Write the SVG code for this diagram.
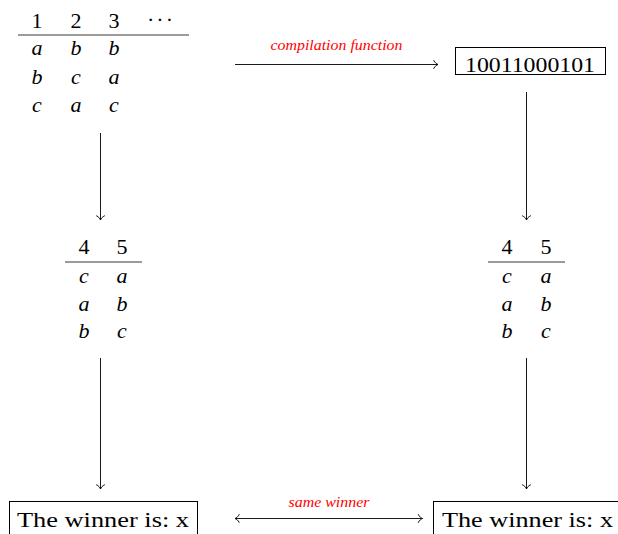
<svg xmlns="http://www.w3.org/2000/svg" width="618" height="534" viewBox="0 0 618 534">
  <defs>
    <style>
      .num { font-family: "Liberation Serif", "Times New Roman", Times, serif; font-size: 22px; fill: #000; text-anchor: middle; }
      .var { font-family: "Liberation Serif", "Times New Roman", Times, serif; font-size: 22px; font-style: italic; fill: #000; text-anchor: middle; }
      .txt { font-family: "Liberation Serif", "Times New Roman", Times, serif; font-size: 22px; fill: #000; }
      .lbl { font-family: "Liberation Serif", "Times New Roman", Times, serif; font-size: 14px; font-style: italic; fill: #ff0000; text-anchor: middle; }
      .rule { stroke: #222; stroke-width: 0.9; }
      .box { fill: #fff; stroke: #000; stroke-width: 1; }
      .edge { fill: none; stroke: #000; stroke-width: 0.9; }
    </style>
    <marker id="to" viewBox="-6 -6 8 12" markerWidth="8" markerHeight="12" refX="0" refY="0" orient="auto-start-reverse" markerUnits="userSpaceOnUse">
      <path d="M -4.2 -4 C -3.2 -1.6 -1.2 -0.5 0 0 C -1.2 0.5 -3.2 1.6 -4.2 4" fill="none" stroke="#000" stroke-width="0.9" stroke-linecap="round"/>
    </marker>
  </defs>

  <!-- connectors -->
  <g id="connectors">
    <line class="edge" x1="235" y1="64.5" x2="438" y2="64.5" marker-end="url(#to)"/>
    <text class="lbl" x="336.5" y="50" textLength="132" lengthAdjust="spacingAndGlyphs">compilation function</text>
    <line class="edge" x1="100.5" y1="133" x2="100.5" y2="220" marker-end="url(#to)"/>
    <line class="edge" x1="526.5" y1="92" x2="526.5" y2="220" marker-end="url(#to)"/>
    <line class="edge" x1="100.5" y1="358" x2="100.5" y2="489" marker-end="url(#to)"/>
    <line class="edge" x1="526.5" y1="358" x2="526.5" y2="489" marker-end="url(#to)"/>
    <line class="edge" x1="235" y1="518.5" x2="422.5" y2="518.5" marker-start="url(#to)" marker-end="url(#to)"/>
    <text class="lbl" x="329" y="507" textLength="81" lengthAdjust="spacingAndGlyphs">same winner</text>
  </g>

  <!-- full preference table -->
  <g id="profile">
    <text class="num" x="37" y="28">1</text>
    <text class="num" x="76" y="28">2</text>
    <text class="num" x="114" y="28">3</text>
    <text class="num" x="160" y="27" textLength="26" lengthAdjust="spacing">· · ·</text>
    <line class="rule" x1="18" y1="35" x2="189" y2="35"/>
    <text class="var" x="37" y="55">a</text>
    <text class="var" x="76" y="55">b</text>
    <text class="var" x="114" y="55">b</text>
    <text class="var" x="37" y="84">b</text>
    <text class="var" x="76" y="84">c</text>
    <text class="var" x="114" y="84">a</text>
    <text class="var" x="37" y="112">c</text>
    <text class="var" x="76" y="112">a</text>
    <text class="var" x="114" y="112">c</text>
  </g>

  <!-- compiled bit string -->
  <g id="compiled">
    <rect class="box" x="455.5" y="47.5" width="150" height="27"/>
    <text class="txt" x="530" y="71.5" text-anchor="middle" textLength="130" lengthAdjust="spacingAndGlyphs">10011000101</text>
  </g>

  <!-- added voters, left -->
  <g id="update-left">
    <text class="num" x="84" y="254">4</text>
    <text class="num" x="122" y="254">5</text>
    <line class="rule" x1="65" y1="262" x2="142" y2="262"/>
    <text class="var" x="84" y="283">c</text>
    <text class="var" x="122" y="283">a</text>
    <text class="var" x="84" y="311">a</text>
    <text class="var" x="122" y="311">b</text>
    <text class="var" x="84" y="338">b</text>
    <text class="var" x="122" y="338">c</text>
  </g>

  <!-- added voters, right -->
  <g id="update-right">
    <text class="num" x="507" y="254">4</text>
    <text class="num" x="546" y="254">5</text>
    <line class="rule" x1="488" y1="262" x2="565" y2="262"/>
    <text class="var" x="507" y="283">c</text>
    <text class="var" x="546" y="283">a</text>
    <text class="var" x="507" y="311">a</text>
    <text class="var" x="546" y="311">b</text>
    <text class="var" x="507" y="338">b</text>
    <text class="var" x="546" y="338">c</text>
  </g>

  <!-- results -->
  <g id="winner-left">
    <rect class="box" x="9.5" y="501.5" width="188" height="40"/>
    <text class="txt" x="17" y="527" textLength="172" lengthAdjust="spacingAndGlyphs">The winner is: x</text>
  </g>
  <g id="winner-right">
    <rect class="box" x="433.5" y="501.5" width="200" height="40"/>
    <text class="txt" x="442" y="527" textLength="171" lengthAdjust="spacingAndGlyphs">The winner is: x</text>
  </g>
</svg>
